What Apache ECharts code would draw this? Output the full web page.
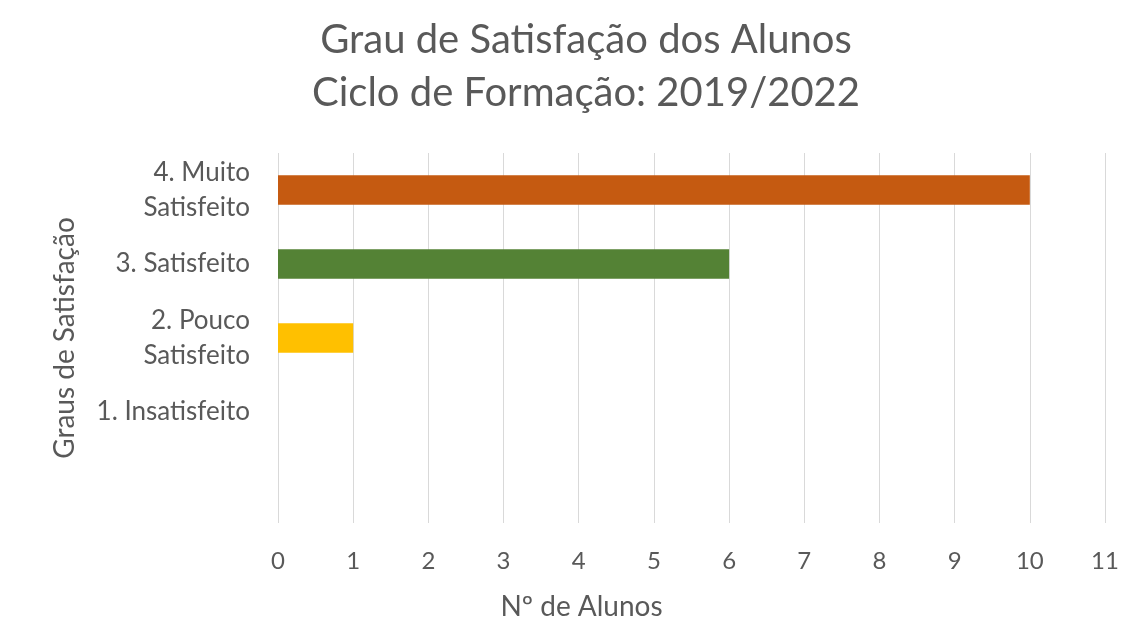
<!DOCTYPE html>
<html>
<head>
<meta charset="utf-8">
<script src="https://cdn.jsdelivr.net/npm/echarts@6/dist/echarts.min.js"></script>
<style>
  html, body { margin: 0; padding: 0; background: #fff; }
  #main { width: 1124px; height: 626px; }
</style>
</head>
<body>
<div id="main"></div>
<script>
// dados (de baixo para cima)
const categorias = ['', '1. Insatisfeito', '2. Pouco\nSatisfeito', '3. Satisfeito', '4. Muito\nSatisfeito'];
const alunos = [null, 0, 1, 6, 10];
const cores = ['#ffffff', '#a5a5a5', '#ffc000', '#548235', '#c55a11'];

const chart = echarts.init(document.getElementById('main'));
const fonte = 'Lato, "Open Sans", sans-serif';
const cinza = '#595959';

const option = {
    backgroundColor: '#fff',
    animation: false,
    title: {
        text: 'Grau de Satisfação dos Alunos\nCiclo de Formação: 2019/2022',
        left: 581,
        textAlign: 'center',
        top: 9,
        textStyle: {
            fontFamily: fonte,
            fontSize: 40,
            fontWeight: 'normal',
            color: cinza,
            lineHeight: 53
        }
    },
    grid: { left: 278, right: 19, top: 153, bottom: 97 },
    xAxis: {
        type: 'value',
        min: 0,
        max: 11,
        interval: 1,
        name: 'Nº de Alunos',
        nameLocation: 'middle',
        nameGap: 70,
        nameTextStyle: { fontFamily: fonte, fontSize: 28, color: cinza, padding: [0, 220, 0, 0] },
        axisLine: { show: false },
        axisTick: { show: false },
        axisLabel: { fontFamily: fonte, fontSize: 24, color: cinza, margin: 26 },
        splitLine: { lineStyle: { color: '#d9d9d9', width: 1 } }
    },
    yAxis: {
        type: 'category',
        data: categorias,
        name: 'Graus de Satisfação',
        nameLocation: 'middle',
        nameGap: 199,
        nameRotate: 90,
        nameTextStyle: { fontFamily: fonte, fontSize: 28, color: cinza },
        axisLine: { show: false },
        axisTick: { show: false },
        axisLabel: { fontFamily: fonte, fontSize: 26, color: cinza, margin: 28, lineHeight: 35, align: 'right' },
        splitLine: { show: false }
    },
    series: [{
        type: 'bar',
        barWidth: '40%',
        data: alunos.map((v, i) => ({ value: v, itemStyle: { color: cores[i] } }))
    }]
};

chart.setOption(option);
</script>
</body>
</html>
